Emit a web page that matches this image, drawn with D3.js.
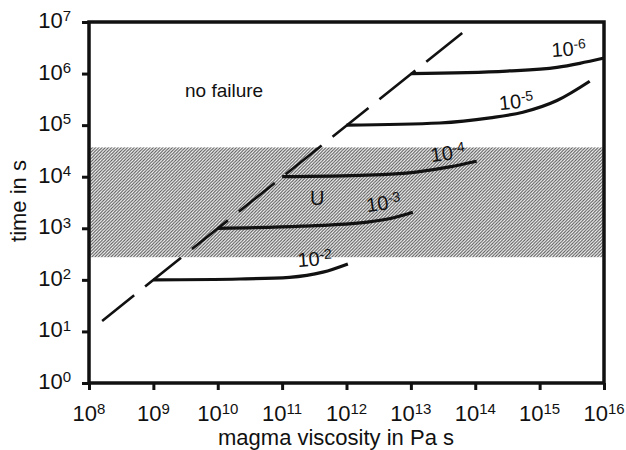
<!DOCTYPE html>
<html>
<head>
<meta charset="utf-8">
<script src="https://cdn.jsdelivr.net/npm/d3@7"></script>
<style>
  body { margin: 0; background: #fff; }
  svg text { font-family: "Liberation Sans", Arial, sans-serif; fill: #111; }
</style>
</head>
<body>
<svg id="chart" width="626" height="450"></svg>
<script>
// decades shown on the axes
const xTickExp = [8, 9, 10, 11, 12, 13, 14, 15, 16];
const yTickExp = [0, 1, 2, 3, 4, 5, 6, 7];

// failure boundary (dashed), [viscosity, time]
const boundary = [[1.6e8, 16], [7.4e13, 7.2e6]];

// hatched band limits in s
const bandTimes = [275, 3.7e4];

// strain-rate curves, [viscosity Pa s, time s]
const curve2 = [[1e9, 100], [2.2e10, 104], [1.3e11, 112], [4.3e11, 141], [1.05e12, 204]];
const curve3 = [[1e10, 1000], [2e11, 1100], [2.1e12, 1320], [5.2e12, 1580], [1.07e13, 2040]];
const curve4 = [[1e11, 1e4], [2.1e12, 1.07e4], [1.2e13, 1.23e4], [4e13, 1.55e4], [1.05e14, 2e4]];
const curve5 = [[1e12, 1e5], [2.8e13, 1.1e5], [1.7e14, 1.38e5], [5.5e14, 1.78e5], [1.86e15, 3e5], [6e15, 7.1e5]];
const curve6 = [[1e13, 1e6], [3.1e14, 1.12e6], [1.86e15, 1.32e6], [4.2e15, 1.58e6], [1e16, 2e6]];
const curves = [curve2, curve3, curve4, curve5, curve6];

// curve labels: exponent, anchor [viscosity, time], tilt
const labelExp = ["-2", "-3", "-4", "-5", "-6"];
const labelPos = [[1.76e11, 177], [2.1e12, 2050], [2.1e13, 1.9e4], [2.4e14, 1.95e5], [1.55e15, 2.1e6]];
const labelTilt = [-4, -8, -8, -6, -4];

const width = 626, height = 450;
const margin = {top: 22, right: 22, bottom: 67, left: 89};

const svg = d3.select("#chart");

const x = d3.scaleLog()
  .domain([1e8, 1e16])
  .range([margin.left, width - margin.right]);

const y = d3.scaleLog()
  .domain([1, 1e7])
  .range([height - margin.bottom, margin.top]);

// hatch pattern
const pattern = svg.append("defs").append("pattern")
  .attr("id", "hatch")
  .attr("patternUnits", "userSpaceOnUse")
  .attr("width", 3.2)
  .attr("height", 3.2);
pattern.append("rect").attr("width", 3.2).attr("height", 3.2).attr("fill", "#fff");
pattern.append("path")
  .attr("d", "M-0.8,0.8 L0.8,-0.8 M0,3.2 L3.2,0 M2.4,4 L4,2.4")
  .attr("stroke", "#555")
  .attr("stroke-width", 1.1);

svg.append("rect")
  .attr("x", x(1e8))
  .attr("width", x(1e16) - x(1e8))
  .attr("y", y(bandTimes[1]))
  .attr("height", y(bandTimes[0]) - y(bandTimes[1]))
  .attr("fill", "url(#hatch)");

// axes
const xAxis = svg.append("g")
  .attr("transform", `translate(0,${height - margin.bottom})`)
  .call(d3.axisBottom(x).tickValues(xTickExp.map(e => Math.pow(10, e))).tickSize(7).tickFormat(""));

const yAxis = svg.append("g")
  .attr("transform", `translate(${margin.left},0)`)
  .call(d3.axisLeft(y).tickValues(yTickExp.map(e => Math.pow(10, e))).tickSize(7).tickFormat(""));

[xAxis, yAxis].forEach(g => {
  g.select(".domain").remove();
  g.selectAll(".tick line").attr("stroke", "#111").attr("stroke-width", 3);
});

function powLabel(sel, exp, supSize) {
  sel.append("tspan").text("10");
  sel.append("tspan").attr("dy", "-0.45em").style("font-size", supSize).text(exp);
}

svg.append("g").selectAll("text")
  .data(xTickExp)
  .join("text")
  .attr("x", d => x(Math.pow(10, d)))
  .attr("y", height - margin.bottom + 38)
  .attr("text-anchor", "middle")
  .style("font-size", "22px")
  .each(function (d) { powLabel(d3.select(this), d, "15px"); });

svg.append("g").selectAll("text")
  .data(yTickExp)
  .join("text")
  .attr("x", margin.left - 18)
  .attr("y", d => y(Math.pow(10, d)) + 6)
  .attr("text-anchor", "end")
  .style("font-size", "22px")
  .each(function (d) { powLabel(d3.select(this), d, "15px"); });

// axis titles
svg.append("text")
  .attr("x", 336)
  .attr("y", 445)
  .attr("text-anchor", "middle")
  .style("font-size", "22px")
  .text("magma viscosity in Pa s");

svg.append("text")
  .attr("transform", "translate(26,201) rotate(-90)")
  .attr("text-anchor", "middle")
  .style("font-size", "22px")
  .text("time in s");

// failure boundary
const line = d3.line().x(d => x(d[0])).y(d => y(d[1]));

svg.append("path")
  .attr("d", line(boundary))
  .attr("fill", "none")
  .attr("stroke", "#111")
  .attr("stroke-width", 2.6)
  .attr("stroke-dasharray", "46,14")
  .attr("stroke-dashoffset", 5);

// curves
const smooth = d3.line().x(d => x(d[0])).y(d => y(d[1])).curve(d3.curveMonotoneX);

svg.append("g").selectAll("path")
  .data(curves)
  .join("path")
  .attr("d", smooth)
  .attr("fill", "none")
  .attr("stroke", "#111")
  .attr("stroke-width", 3.2);

// curve labels
labelExp.forEach((e, i) => {
  const px = x(labelPos[i][0]), py = y(labelPos[i][1]);
  const t = svg.append("text")
    .attr("transform", `translate(${px},${py}) rotate(${labelTilt[i]})`)
    .style("font-size", "20px");
  powLabel(t, e, "14px");
});

svg.append("text")
  .attr("x", x(3.1e9))
  .attr("y", y(3.5e5))
  .style("font-size", "19px")
  .text("no failure");

svg.append("text")
  .attr("x", x(2.7e11))
  .attr("y", y(2800))
  .style("font-size", "20px")
  .text("U");

// frame
svg.append("rect")
  .attr("x", margin.left)
  .attr("y", margin.top)
  .attr("width", width - margin.left - margin.right)
  .attr("height", height - margin.top - margin.bottom)
  .attr("fill", "none")
  .attr("stroke", "#111")
  .attr("stroke-width", 3.5);
</script>
</body>
</html>
